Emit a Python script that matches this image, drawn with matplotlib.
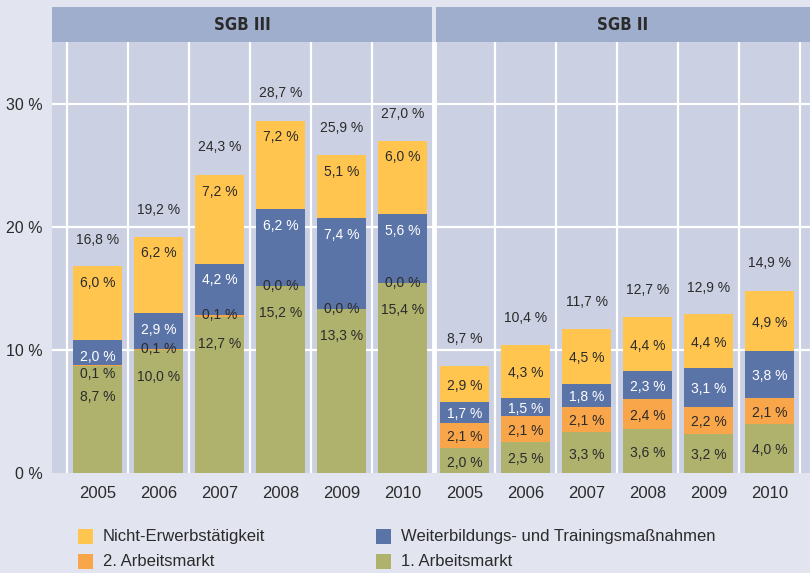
import matplotlib
matplotlib.use("Agg")
import matplotlib.pyplot as plt
from matplotlib.patches import Rectangle

years = ["2005", "2006", "2007", "2008", "2009", "2010"]
panels = ["SGB III", "SGB II"]
series_names = ["1. Arbeitsmarkt", "2. Arbeitsmarkt",
                "Weiterbildungs- und Trainingsmaßnahmen", "Nicht-Erwerbstätigkeit"]

# SGB III
sgb3_erster = [8.7, 10.0, 12.7, 15.2, 13.3, 15.4]
sgb3_zweiter = [0.1, 0.1, 0.1, 0.0, 0.0, 0.0]
sgb3_weiterb = [2.0, 2.9, 4.2, 6.2, 7.4, 5.6]
sgb3_nichterw = [6.0, 6.2, 7.2, 7.2, 5.1, 6.0]
sgb3_total = [16.8, 19.2, 24.3, 28.7, 25.9, 27.0]

# SGB II
sgb2_erster = [2.0, 2.5, 3.3, 3.6, 3.2, 4.0]
sgb2_zweiter = [2.1, 2.1, 2.1, 2.4, 2.2, 2.1]
sgb2_weiterb = [1.7, 1.5, 1.8, 2.3, 3.1, 3.8]
sgb2_nichterw = [2.9, 4.3, 4.5, 4.4, 4.4, 4.9]
sgb2_total = [8.7, 10.4, 11.7, 12.7, 12.9, 14.9]

yticks = [0, 10, 20, 30]

FIG_BG = "#e2e4f0"
PANEL_BG = "#cbd0e3"
HEADER = "#a0aece"
COLORS = ["#aeb26d", "#f9a54a", "#5b74a8", "#ffc54f"]
TEXT = "#2b2b2b"
FONT = ["Liberation Sans", "DejaVu Sans"]

W, H = 810, 573


def fx(x):
    return x / W


def fy(y):
    return 1 - y / H


def fmt(v):
    return f"{v:.1f}".replace(".", ",") + " %"


fig = plt.figure(figsize=(8.1, 5.73), dpi=100)
fig.patch.set_facecolor(FIG_BG)

# plot area in pixels: x 52..810, y 42..473
ax = fig.add_axes([fx(52), fy(473), fx(810 - 52), (473 - 42) / H])
ax.set_facecolor(PANEL_BG)
ymax = 35.0
ax.set_ylim(0, ymax)
col = 61.0
ax.set_xlim(-15 / col, (810 - 67) / col)
for s in ax.spines.values():
    s.set_visible(False)

# grid
for yv in yticks[1:]:
    ax.axhline(yv, color="white", lw=1.6, zorder=1)
offsets = [0.0, 6.02]
for off in offsets:
    for k in range(7):
        if off == 0 and k == 6:
            continue
        ax.axvline(off + k, color="white", lw=1.6, zorder=1)
ax.axvline(6.01, color="white", lw=3.5, zorder=1)

data = [
    ([sgb3_erster, sgb3_zweiter, sgb3_weiterb, sgb3_nichterw], sgb3_total),
    ([sgb2_erster, sgb2_zweiter, sgb2_weiterb, sgb2_nichterw], sgb2_total),
]

xpos_all = []
for p, (segs, totals) in enumerate(data):
    off = offsets[p]
    xs = [off + i + 0.5 for i in range(len(years))]
    xpos_all += xs
    bottom = [0.0] * len(years)
    bottoms = []
    for s, vals in enumerate(segs):
        ax.bar(xs, vals, width=0.8, bottom=bottom, color=COLORS[s], zorder=2)
        bottoms.append(list(bottom))
        bottom = [b + v for b, v in zip(bottom, vals)]

    for i, x in enumerate(xs):
        tops = [bottoms[s][i] + segs[s][i] for s in range(4)]
        ys = [0] * 4
        if p == 0:
            # large SGB III segments: labels sit near the top of each segment
            ys[3] = tops[3] - 1.35
            ys[2] = tops[2] - 1.35
            ys[1] = min(tops[1], ys[2] - 1.4)
            ys[0] = min(tops[0] - 2.2, ys[1] - 1.9)
        else:
            for s in range(4):
                ys[s] = bottoms[s][i] + segs[s][i] / 2 - 0.15
        for s in range(4):
            ax.text(x, ys[s], fmt(segs[s][i]), ha="center", va="center",
                    fontsize=10, family=FONT,
                    color="white" if s == 2 else TEXT, zorder=3)
        ax.text(x, totals[i] + 2.15, fmt(totals[i]), ha="center", va="center",
                fontsize=10, family=FONT, color=TEXT, zorder=3)

ax.set_yticks(yticks)
ax.set_yticklabels([f"{t} %" for t in yticks], family=FONT, fontsize=11.5, color=TEXT)
ax.set_xticks(xpos_all)
ax.set_xticklabels(years * 2, family=FONT, fontsize=12, color=TEXT)
ax.tick_params(axis="y", length=0, pad=7)
ax.tick_params(axis="x", length=0, pad=9)

# headers
fig.add_artist(Rectangle((fx(52), fy(42)), fx(432 - 52), (42 - 7) / H,
                         transform=fig.transFigure, color=HEADER, lw=0))
fig.add_artist(Rectangle((fx(436), fy(42)), fx(810 - 436), (42 - 7) / H,
                         transform=fig.transFigure, color=HEADER, lw=0))
for name, cx in zip(panels, [242, 623]):
    fig.text(fx(cx), fy(25), name, ha="center", va="center", fontsize=12,
             fontweight="bold", family="DejaVu Sans", fontstretch="condensed",
             color=TEXT)

# legend
legend_items = [
    (3, 78, 536.5), (2, 376, 536.5),
    (1, 78, 561.5), (0, 376, 561.5),
]
for s, lx, ly in legend_items:
    fig.add_artist(Rectangle((fx(lx), fy(ly + 7.5)), fx(15), 15 / H,
                             transform=fig.transFigure, color=COLORS[s], lw=0))
    fig.text(fx(lx + 25), fy(ly), series_names[s], ha="left", va="center",
             fontsize=12, family=FONT, color=TEXT)

fig.savefig("out.png", dpi=100, facecolor=FIG_BG)
